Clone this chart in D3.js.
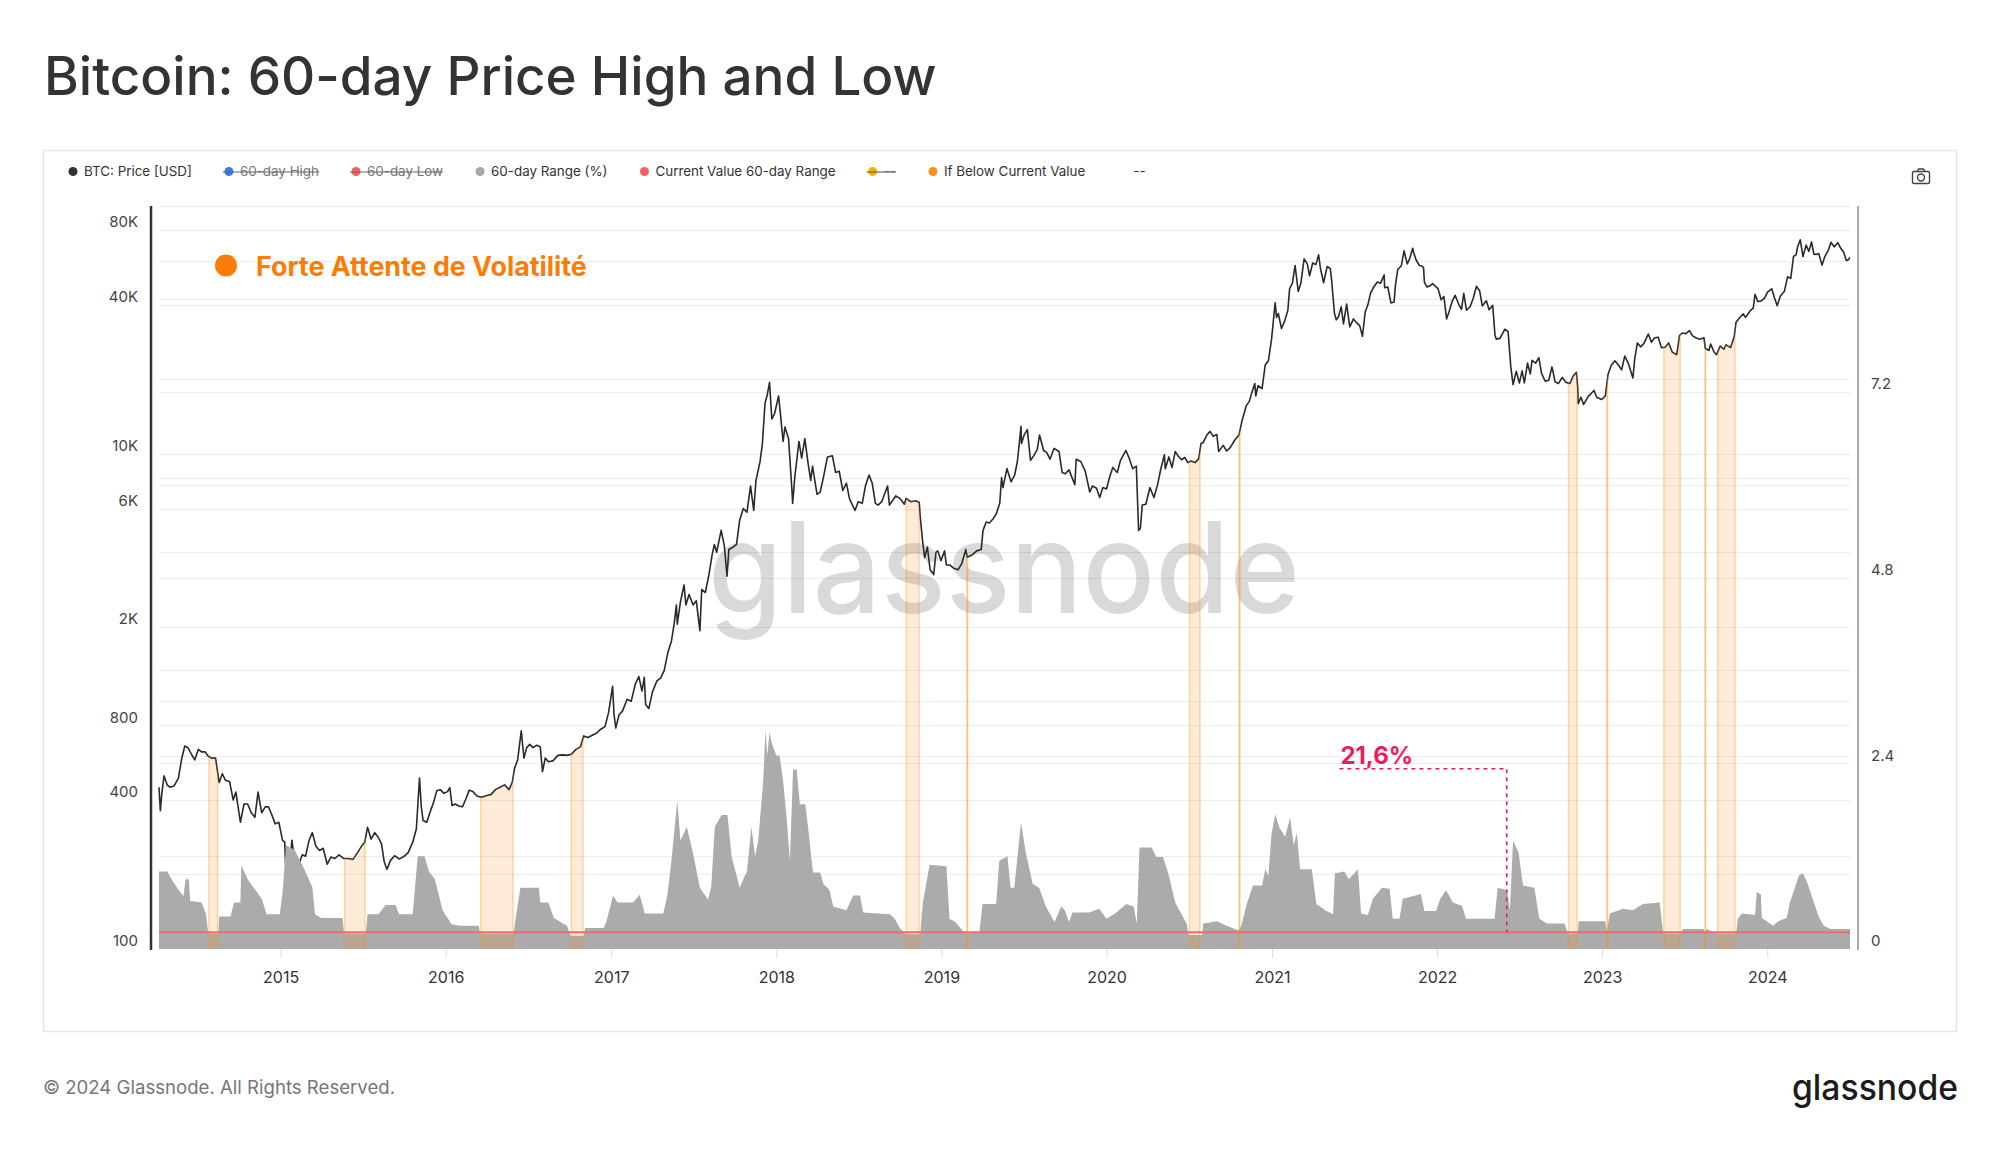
<!DOCTYPE html>
<html>
<head>
<meta charset="utf-8">
<script src="https://cdn.jsdelivr.net/npm/d3@7"></script>
<style>
  body { margin: 0; background: #fff; }
  svg { display: block; font-family: Inter, "Noto Sans", sans-serif; }
</style>
</head>
<body>
<div id="chart"></div>
<script>
/* Bitcoin: 60-day price high and low, with 60-day range */

// BTC price [USD]
const btcPrice = [
  ["2014-04-07",450],["2014-04-10",362],["2014-04-13",420],["2014-04-18",500],["2014-04-25",460],["2014-05-01",450],
  ["2014-05-10",455],["2014-05-20",490],["2014-05-27",585],["2014-06-03",660],["2014-06-10",650],["2014-06-18",610],
  ["2014-06-25",580],["2014-07-03",640],["2014-07-10",625],["2014-07-18",625],["2014-07-25",600],["2014-08-01",590],
  ["2014-08-10",590],["2014-08-18",470],["2014-08-25",510],["2014-09-01",480],["2014-09-10",475],["2014-09-18",400],
  ["2014-09-24",430],["2014-10-04",325],["2014-10-12",385],["2014-10-20",385],["2014-10-28",355],["2014-11-05",340],
  ["2014-11-12",430],["2014-11-20",355],["2014-11-28",375],["2014-12-05",375],["2014-12-12",350],["2014-12-20",320],
  ["2014-12-28",325],["2015-01-05",275],["2015-01-10",270],["2015-01-14",178],["2015-01-20",210],["2015-01-26",275],
  ["2015-02-01",225],["2015-02-10",220],["2015-02-18",240],["2015-02-25",237],["2015-03-05",275],["2015-03-12",295],
  ["2015-03-20",260],["2015-03-28",250],["2015-04-05",255],["2015-04-14",220],["2015-04-22",235],["2015-05-01",232],
  ["2015-05-10",240],["2015-05-20",232],["2015-05-30",232],["2015-06-10",230],["2015-06-20",245],["2015-06-30",262],
  ["2015-07-06",270],["2015-07-12",310],["2015-07-20",278],["2015-07-28",295],["2015-08-05",282],["2015-08-12",266],
  ["2015-08-18",225],["2015-08-24",210],["2015-09-01",228],["2015-09-10",238],["2015-09-20",231],["2015-09-30",236],
  ["2015-10-10",245],["2015-10-20",270],["2015-10-28",305],["2015-11-04",490],["2015-11-08",375],["2015-11-12",330],
  ["2015-11-20",325],["2015-11-28",360],["2015-12-05",390],["2015-12-12",435],["2015-12-20",440],["2015-12-28",425],
  ["2016-01-05",432],["2016-01-10",448],["2016-01-15",380],["2016-01-22",385],["2016-01-30",378],["2016-02-07",375],
  ["2016-02-15",405],["2016-02-22",438],["2016-03-01",432],["2016-03-10",415],["2016-03-20",410],["2016-04-01",417],
  ["2016-04-10",420],["2016-04-20",440],["2016-04-30",450],["2016-05-10",460],["2016-05-20",440],["2016-05-27",470],
  ["2016-06-01",535],["2016-06-08",580],["2016-06-16",760],["2016-06-22",590],["2016-06-28",650],["2016-07-05",670],
  ["2016-07-12",650],["2016-07-20",665],["2016-07-28",655],["2016-08-02",520],["2016-08-08",590],["2016-08-15",570],
  ["2016-08-25",575],["2016-09-05",605],["2016-09-15",608],["2016-09-25",605],["2016-10-05",612],["2016-10-15",640],
  ["2016-10-25",655],["2016-11-01",725],["2016-11-10",715],["2016-11-20",730],["2016-11-30",745],["2016-12-08",770],
  ["2016-12-18",790],["2016-12-26",900],["2017-01-04",1150],["2017-01-07",890],["2017-01-11",780],["2017-01-18",880],
  ["2017-01-26",915],["2017-02-05",1020],["2017-02-14",1000],["2017-02-23",1170],["2017-03-03",1260],["2017-03-10",1100],
  ["2017-03-15",1250],["2017-03-18",970],["2017-03-25",935],["2017-04-02",1090],["2017-04-12",1210],["2017-04-20",1240],
  ["2017-04-28",1330],["2017-05-06",1570],["2017-05-14",1750],["2017-05-20",2050],["2017-05-25",2450],["2017-05-27",2050],
  ["2017-06-03",2520],["2017-06-11",2950],["2017-06-15",2450],["2017-06-22",2700],["2017-07-01",2450],["2017-07-08",2550],
  ["2017-07-16",1930],["2017-07-20",2830],["2017-07-28",2750],["2017-08-05",3250],["2017-08-12",3900],["2017-08-17",4300],
  ["2017-08-22",4000],["2017-09-01",4900],["2017-09-08",4250],["2017-09-14",3200],["2017-09-18",4100],["2017-09-28",4200],
  ["2017-10-05",4300],["2017-10-12",5400],["2017-10-20",6000],["2017-10-28",5800],["2017-11-05",7400],["2017-11-12",5900],
  ["2017-11-17",7800],["2017-11-26",9300],["2017-12-01",10900],["2017-12-07",16000],["2017-12-12",17300],["2017-12-17",19400],
  ["2017-12-22",13800],["2017-12-28",14500],["2018-01-06",17100],["2018-01-10",14500],["2018-01-16",11200],["2018-01-20",12800],
  ["2018-01-28",11500],["2018-02-05",6900],["2018-02-06",6300],["2018-02-11",8100],["2018-02-20",11200],["2018-02-26",9600],
  ["2018-03-05",11500],["2018-03-12",9200],["2018-03-18",7800],["2018-03-22",8900],["2018-04-01",6850],["2018-04-08",7000],
  ["2018-04-15",8000],["2018-04-24",9700],["2018-05-05",9800],["2018-05-12",8400],["2018-05-20",8500],["2018-05-28",7100],
  ["2018-06-05",7600],["2018-06-12",6550],["2018-06-24",5900],["2018-07-01",6400],["2018-07-10",6300],["2018-07-17",7400],
  ["2018-07-25",8200],["2018-08-01",7600],["2018-08-08",6300],["2018-08-14",6200],["2018-08-22",6400],["2018-08-30",7000],
  ["2018-09-04",7400],["2018-09-08",6200],["2018-09-16",6500],["2018-09-22",6750],["2018-10-01",6600],["2018-10-11",6250],
  ["2018-10-15",6600],["2018-10-25",6400],["2018-11-05",6450],["2018-11-13",6350],["2018-11-15",5600],["2018-11-20",4500],
  ["2018-11-25",3800],["2018-12-01",4200],["2018-12-07",3400],["2018-12-15",3250],["2018-12-20",4000],["2018-12-24",4050],
  ["2018-12-31",3700],["2019-01-08",4050],["2019-01-12",3550],["2019-01-20",3550],["2019-01-28",3450],["2019-02-07",3400],
  ["2019-02-15",3600],["2019-02-24",4100],["2019-02-27",3820],["2019-03-10",3900],["2019-03-20",4050],["2019-03-30",4100],
  ["2019-04-03",4900],["2019-04-10",5300],["2019-04-17",5250],["2019-04-25",5450],["2019-05-02",5700],["2019-05-10",6300],
  ["2019-05-14",8000],["2019-05-17",7300],["2019-05-26",8700],["2019-06-04",7700],["2019-06-12",8200],["2019-06-18",9300],
  ["2019-06-26",12900],["2019-06-27",11000],["2019-07-03",11900],["2019-07-10",12500],["2019-07-17",9400],["2019-07-24",9800],
  ["2019-08-01",10400],["2019-08-06",11900],["2019-08-15",10300],["2019-08-22",10100],["2019-08-29",9500],["2019-09-07",10500],
  ["2019-09-18",10200],["2019-09-25",8400],["2019-10-02",8300],["2019-10-10",8600],["2019-10-23",7500],["2019-10-26",9500],
  ["2019-11-05",9300],["2019-11-15",8500],["2019-11-25",7000],["2019-12-01",7400],["2019-12-10",7250],["2019-12-17",6650],
  ["2019-12-24",7300],["2020-01-01",7200],["2020-01-08",8050],["2020-01-15",8800],["2020-01-25",8400],["2020-02-01",9400],
  ["2020-02-13",10300],["2020-02-20",9600],["2020-02-28",8700],["2020-03-07",8900],["2020-03-12",4900],["2020-03-16",5000],
  ["2020-03-20",6200],["2020-03-28",6250],["2020-04-06",7300],["2020-04-15",6650],["2020-04-23",7500],["2020-04-30",8650],
  ["2020-05-08",9900],["2020-05-10",8700],["2020-05-18",9700],["2020-05-25",8800],["2020-06-01",10200],["2020-06-08",9750],
  ["2020-06-15",9450],["2020-06-22",9650],["2020-06-29",9200],["2020-07-06",9350],["2020-07-15",9200],["2020-07-23",9550],
  ["2020-07-28",11000],["2020-08-02",11100],["2020-08-10",11900],["2020-08-17",12300],["2020-08-24",11750],["2020-09-01",11950],
  ["2020-09-05",10200],["2020-09-15",10800],["2020-09-23",10250],["2020-10-01",10600],["2020-10-10",11300],["2020-10-20",11900],
  ["2020-10-27",13650],["2020-11-05",15600],["2020-11-12",16300],["2020-11-18",17800],["2020-11-24",19200],["2020-11-26",17100],
  ["2020-12-01",18800],["2020-12-10",18300],["2020-12-17",22800],["2020-12-24",23700],["2020-12-31",29000],["2021-01-08",40700],
  ["2021-01-11",35500],["2021-01-15",36800],["2021-01-22",32000],["2021-01-29",34300],["2021-02-05",37900],["2021-02-09",46500],
  ["2021-02-15",48700],["2021-02-21",57500],["2021-02-28",45200],["2021-03-06",49000],["2021-03-13",61200],["2021-03-20",58400],
  ["2021-03-25",52300],["2021-04-01",58900],["2021-04-08",58000],["2021-04-14",63500],["2021-04-18",56200],["2021-04-25",49000],
  ["2021-05-03",57000],["2021-05-10",55800],["2021-05-13",49700],["2021-05-19",37000],["2021-05-23",34700],["2021-05-28",35700],
  ["2021-06-03",39200],["2021-06-08",33400],["2021-06-15",40200],["2021-06-22",32500],["2021-06-30",35000],["2021-07-07",33800],
  ["2021-07-14",32800],["2021-07-20",29800],["2021-07-26",37300],["2021-08-01",39900],["2021-08-07",44600],["2021-08-14",47100],
  ["2021-08-22",49300],["2021-08-29",48800],["2021-09-06",52700],["2021-09-07",46800],["2021-09-14",47100],["2021-09-21",40600],
  ["2021-09-28",41000],["2021-10-01",48100],["2021-10-06",55400],["2021-10-14",57400],["2021-10-20",65900],["2021-10-27",58400],
  ["2021-11-01",61000],["2021-11-08",67500],["2021-11-10",64900],["2021-11-16",60400],["2021-11-23",57500],["2021-11-28",57200],
  ["2021-12-02",56500],["2021-12-04",49200],["2021-12-10",47100],["2021-12-16",47600],["2021-12-22",48600],["2021-12-28",47500],
  ["2022-01-03",46400],["2022-01-10",41800],["2022-01-16",43100],["2022-01-22",35000],["2022-01-28",37700],["2022-02-04",41500],
  ["2022-02-10",43600],["2022-02-18",40000],["2022-02-24",38300],["2022-03-01",44400],["2022-03-07",38000],["2022-03-15",39200],
  ["2022-03-22",42400],["2022-03-29",47400],["2022-04-05",45500],["2022-04-11",39500],["2022-04-20",41400],["2022-04-26",38100],
  ["2022-05-04",39700],["2022-05-09",30100],["2022-05-12",29000],["2022-05-20",29200],["2022-05-31",31800],["2022-06-07",31100],
  ["2022-06-13",22400],["2022-06-18",19000],["2022-06-25",21500],["2022-07-02",19300],["2022-07-08",21600],["2022-07-13",19300],
  ["2022-07-20",23200],["2022-07-26",21000],["2022-07-30",23800],["2022-08-07",23200],["2022-08-14",24400],["2022-08-20",21100],
  ["2022-08-28",19600],["2022-09-05",19800],["2022-09-12",22400],["2022-09-19",19500],["2022-09-26",19200],["2022-10-05",20300],
  ["2022-10-13",19400],["2022-10-22",19200],["2022-10-29",20600],["2022-11-05",21300],["2022-11-08",18500],["2022-11-09",15900],
  ["2022-11-15",16900],["2022-11-21",15800],["2022-12-01",17000],["2022-12-14",18000],["2022-12-20",16900],["2022-12-31",16550],
  ["2023-01-08",17100],["2023-01-14",20900],["2023-01-21",22700],["2023-01-29",23700],["2023-02-05",22900],["2023-02-13",21800],
  ["2023-02-20",24800],["2023-02-28",23100],["2023-03-10",20200],["2023-03-14",24200],["2023-03-20",28000],["2023-03-27",27000],
  ["2023-04-03",27800],["2023-04-13",30400],["2023-04-20",28200],["2023-04-27",29400],["2023-05-05",29500],["2023-05-12",26800],
  ["2023-05-20",26900],["2023-05-28",28000],["2023-06-05",25700],["2023-06-15",25100],["2023-06-21",30000],["2023-06-27",30700],
  ["2023-07-05",30500],["2023-07-13",31400],["2023-07-20",29900],["2023-07-28",29300],["2023-08-05",29000],["2023-08-14",29400],
  ["2023-08-17",26600],["2023-08-25",26100],["2023-08-29",27700],["2023-09-05",25800],["2023-09-11",25100],["2023-09-19",27200],
  ["2023-09-27",26400],["2023-10-02",27500],["2023-10-12",26800],["2023-10-20",29700],["2023-10-24",33900],["2023-11-01",35400],
  ["2023-11-09",36700],["2023-11-14",35500],["2023-11-24",37700],["2023-12-01",38700],["2023-12-05",44000],["2023-12-11",41200],
  ["2023-12-18",41300],["2023-12-26",42500],["2024-01-02",45000],["2024-01-11",46300],["2024-01-16",43100],["2024-01-23",39600],
  ["2024-01-30",43300],["2024-02-08",45300],["2024-02-15",51800],["2024-02-22",51000],["2024-02-28",62400],["2024-03-05",63700],
  ["2024-03-08",68300],["2024-03-14",73000],["2024-03-20",62500],["2024-03-27",69500],["2024-04-02",65600],["2024-04-08",71600],
  ["2024-04-13",63900],["2024-04-19",63800],["2024-04-24",64200],["2024-05-01",57700],["2024-05-07",62300],["2024-05-15",66200],
  ["2024-05-21",71400],["2024-05-28",68400],["2024-06-05",71100],["2024-06-12",67300],["2024-06-18",65100],["2024-06-24",60300],
  ["2024-06-28",60600],["2024-07-02",62000]
];

// 60-day range (right axis)
const rangeSeries = [
  ["2014-04-07",1.0],["2014-04-25",1.0],["2014-05-10",0.85],["2014-05-31",0.68],["2014-06-05",0.9],["2014-06-12",0.9],
  ["2014-06-15",0.62],["2014-07-10",0.6],["2014-07-20",0.45],["2014-07-25",0.2],["2014-08-16",0.2],["2014-08-18",0.42],
  ["2014-09-12",0.42],["2014-09-20",0.6],["2014-10-04",0.6],["2014-10-06",1.08],["2014-10-20",0.9],["2014-11-20",0.65],
  ["2014-12-01",0.45],["2014-12-30",0.45],["2015-01-05",0.72],["2015-01-13",1.34],["2015-02-01",1.28],["2015-02-20",1.06],
  ["2015-03-12",0.8],["2015-03-18",0.45],["2015-04-01",0.4],["2015-05-18",0.4],["2015-05-21",0.2],["2015-07-08",0.2],
  ["2015-07-12",0.45],["2015-08-05",0.45],["2015-08-21",0.57],["2015-09-12",0.57],["2015-09-20",0.45],["2015-10-20",0.45],
  ["2015-10-31",1.2],["2015-11-15",1.2],["2015-11-25",1.0],["2015-12-08",0.9],["2015-12-25",0.5],["2016-01-14",0.32],
  ["2016-02-01",0.3],["2016-03-14",0.3],["2016-03-17",0.2],["2016-05-30",0.2],["2016-06-05",0.45],["2016-06-14",0.79],
  ["2016-07-25",0.79],["2016-07-28",0.6],["2016-08-15",0.6],["2016-08-27",0.4],["2016-09-25",0.3],["2016-10-03",0.17],
  ["2016-11-01",0.17],["2016-11-04",0.27],["2016-12-15",0.27],["2016-12-21",0.35],["2017-01-05",0.69],["2017-01-15",0.6],
  ["2017-02-18",0.6],["2017-03-05",0.7],["2017-03-16",0.46],["2017-04-26",0.46],["2017-05-05",0.69],["2017-05-14",1.14],
  ["2017-05-27",1.92],["2017-06-03",1.4],["2017-06-17",1.58],["2017-07-01",1.23],["2017-07-16",0.79],["2017-08-03",0.64],
  ["2017-08-10",0.8],["2017-08-18",1.58],["2017-09-02",1.73],["2017-09-15",1.73],["2017-09-24",1.2],["2017-10-12",0.79],
  ["2017-10-20",0.9],["2017-10-28",1.0],["2017-11-07",1.58],["2017-11-15",1.2],["2017-11-22",1.4],["2017-12-03",2.17],
  ["2017-12-08",2.84],["2017-12-12",2.5],["2017-12-17",2.8],["2017-12-22",2.66],["2018-01-01",2.5],["2018-01-08",2.5],
  ["2018-01-16",2.17],["2018-01-24",1.68],["2018-01-31",1.14],["2018-02-07",2.32],["2018-02-15",2.32],["2018-02-22",1.87],
  ["2018-03-06",1.87],["2018-03-12",1.58],["2018-03-23",0.99],["2018-04-08",0.99],["2018-04-15",0.84],["2018-04-28",0.77],
  ["2018-05-07",0.55],["2018-06-05",0.5],["2018-06-20",0.69],["2018-07-05",0.69],["2018-07-12",0.47],["2018-09-09",0.45],
  ["2018-09-20",0.39],["2018-10-01",0.27],["2018-10-14",0.19],["2018-11-15",0.19],["2018-11-21",0.6],["2018-12-06",1.09],
  ["2019-01-12",1.07],["2019-01-19",0.39],["2019-02-01",0.35],["2019-02-17",0.24],["2019-02-25",0.2],["2019-03-26",0.22],
  ["2019-04-02",0.58],["2019-05-02",0.58],["2019-05-09",1.14],["2019-05-27",1.2],["2019-06-03",0.79],["2019-06-11",0.79],
  ["2019-06-26",1.63],["2019-07-07",1.23],["2019-07-22",0.84],["2019-08-05",0.79],["2019-08-20",0.55],["2019-09-08",0.35],
  ["2019-09-23",0.55],["2019-10-01",0.5],["2019-10-10",0.35],["2019-10-18",0.47],["2019-11-24",0.47],["2019-12-16",0.52],
  ["2020-01-01",0.39],["2020-01-20",0.46],["2020-02-14",0.58],["2020-03-01",0.55],["2020-03-08",0.33],["2020-03-14",1.31],
  ["2020-04-10",1.31],["2020-04-20",1.19],["2020-05-05",1.19],["2020-05-17",0.97],["2020-06-01",0.6],["2020-06-26",0.33],
  ["2020-07-01",0.18],["2020-07-30",0.18],["2020-08-02",0.33],["2020-09-01",0.36],["2020-09-23",0.3],["2020-10-19",0.24],
  ["2020-10-25",0.3],["2020-11-06",0.58],["2020-11-20",0.82],["2020-12-10",0.82],["2020-12-17",1.03],["2020-12-24",0.95],
  ["2020-12-31",1.49],["2021-01-08",1.74],["2021-01-18",1.56],["2021-01-30",1.45],["2021-02-10",1.7],["2021-02-18",1.34],
  ["2021-02-25",1.5],["2021-03-04",1.03],["2021-03-30",1.03],["2021-04-09",0.58],["2021-05-01",0.49],["2021-05-16",0.45],
  ["2021-05-20",0.98],["2021-06-10",1.0],["2021-06-20",0.9],["2021-07-10",1.03],["2021-07-17",0.46],["2021-08-01",0.44],
  ["2021-08-12",0.65],["2021-09-01",0.79],["2021-09-18",0.78],["2021-09-25",0.39],["2021-10-10",0.39],["2021-10-17",0.65],
  ["2021-11-26",0.71],["2021-12-04",0.49],["2021-12-30",0.49],["2022-01-08",0.65],["2022-01-21",0.76],["2022-02-05",0.6],
  ["2022-02-25",0.56],["2022-03-06",0.39],["2022-05-08",0.39],["2022-05-15",0.79],["2022-06-05",0.76],["2022-06-11",0.5],
  ["2022-06-18",1.4],["2022-06-30",1.25],["2022-07-10",0.82],["2022-08-04",0.79],["2022-08-15",0.39],["2022-09-01",0.33],
  ["2022-10-10",0.33],["2022-10-17",0.2],["2022-11-08",0.2],["2022-11-10",0.36],["2023-01-08",0.36],["2023-01-11",0.22],
  ["2023-01-18",0.46],["2023-02-16",0.52],["2023-03-10",0.5],["2023-04-01",0.58],["2023-05-08",0.6],["2023-05-16",0.2],
  ["2023-06-25",0.2],["2023-06-28",0.26],["2023-08-13",0.26],["2023-08-16",0.22],["2023-08-20",0.26],["2023-09-13",0.2],
  ["2023-10-24",0.2],["2023-10-28",0.39],["2023-11-06",0.46],["2023-12-05",0.44],["2023-12-09",0.74],["2023-12-18",0.7],
  ["2023-12-20",0.4],["2024-01-14",0.3],["2024-01-25",0.36],["2024-02-13",0.4],["2024-02-20",0.6],["2024-03-01",0.77],
  ["2024-03-11",0.95],["2024-03-20",0.98],["2024-03-30",0.85],["2024-04-13",0.6],["2024-04-25",0.4],["2024-05-05",0.3],
  ["2024-05-20",0.26],["2024-07-02",0.26]
];

// current value of the 60-day range
const currentRange = 0.216;

// periods where the range was below the current value
const bandStarts = ["2014-07-25","2015-05-21","2016-03-17","2016-10-03","2018-10-14","2019-02-25","2020-07-01",
                    "2020-10-19","2022-10-17","2023-01-10","2023-05-16","2023-08-15","2023-09-12"];
const bandEnds   = ["2014-08-16","2015-07-08","2016-05-30","2016-11-01","2018-11-14","2019-02-27","2020-07-27",
                    "2020-10-21","2022-11-08","2023-01-12","2023-06-24","2023-08-17","2023-10-23"];

// axes
const priceLabels = [100, 400, 800, 2000, 6000, 10000, 40000, 80000];
const priceGrid = [200, 400, 600, 800, 1000, 2000, 4000, 6000, 8000, 10000, 20000, 40000, 60000, 80000, 100000];
const rangeLabels = [0, 2.4, 4.8, 7.2];
const rangeGrid = [1.2, 2.4, 3.6, 4.8, 6.0, 7.2, 8.4, 9.6];

// legend
const legendNames = ["BTC: Price [USD]", "60-day High", "60-day Low", "60-day Range (%)",
                     "Current Value 60-day Range", "--", "If Below Current Value", "--"];
const legendColors = ["#333333", "#2f80ed", "#f0605d", "#a9a9a9", "#f0605d", "#f5b400", "#f7931a", null];
const legendStruck = [false, true, true, false, false, true, false, false];

// annotation
const annFrom = "2021-05-30", annTo = "2022-06-04", annLevel = 2.33, annText = "21,6%";

const parse = d3.timeParse("%Y-%m-%d");
const price = btcPrice.map(d => ({ date: parse(d[0]), v: d[1] }));
const range = rangeSeries.map(d => ({ date: parse(d[0]), v: d[1] }));

const width = 2000, height = 1152;
const plot = { left: 159, right: 1850, top: 206, bottom: 949 };

const svg = d3.select("#chart").append("svg")
    .attr("width", width)
    .attr("height", height)
    .attr("viewBox", [0, 0, width, height]);

svg.append("rect").attr("width", width).attr("height", height).attr("fill", "#fff");

// title
svg.append("text")
    .attr("x", 44).attr("y", 95)
    .attr("font-size", 53).attr("font-weight", 500)
    .attr("fill", "#333")
    .text("Bitcoin: 60-day Price High and Low");

// panel frame
svg.append("rect")
    .attr("x", 43.5).attr("y", 150.5)
    .attr("width", 1913).attr("height", 881)
    .attr("fill", "none").attr("stroke", "#e6e6e6").attr("stroke-width", 1.5);

const x = d3.scaleTime()
    .domain([parse("2014-04-07"), parse("2024-07-02")])
    .range([plot.left, plot.right]);

const yP = d3.scaleLog()
    .domain([100, 100000])
    .range([plot.bottom, plot.top]);

const yR = d3.scaleLinear()
    .domain([0, 9.6])
    .range([plot.bottom, plot.top]);

// grid
const grid = svg.append("g").attr("stroke", "#ececec").attr("stroke-width", 1);
grid.selectAll(".gp").data(priceGrid).join("line")
    .attr("x1", plot.left).attr("x2", plot.right)
    .attr("y1", d => Math.round(yP(d)) + 0.5).attr("y2", d => Math.round(yP(d)) + 0.5);
grid.selectAll(".gr").data(rangeGrid).join("line")
    .attr("x1", plot.left).attr("x2", plot.right)
    .attr("y1", d => Math.round(yR(d)) + 0.5).attr("y2", d => Math.round(yR(d)) + 0.5);

// watermark
svg.append("text")
    .attr("x", 708).attr("y", 613)
    .attr("font-size", 126).attr("font-weight", 500)
    .attr("textLength", 592).attr("lengthAdjust", "spacingAndGlyphs")
    .attr("fill", "#000").attr("fill-opacity", 0.15)
    .text("glassnode");

// price line
svg.append("path")
    .datum(price)
    .attr("fill", "none")
    .attr("stroke", "#2a2a2a")
    .attr("stroke-width", 1.6)
    .attr("stroke-linejoin", "round")
    .attr("d", d3.line().x(d => x(d.date)).y(d => yP(d.v)));

// 60-day range area
svg.append("path")
    .datum(range)
    .attr("fill", "#ababab")
    .attr("d", d3.area().x(d => x(d.date)).y0(yR(0)).y1(d => yR(d.v)));

// orange bands: price area clipped to each period
const priceArea = d3.area().x(d => x(d.date)).y0(plot.bottom).y1(d => yP(d.v));
const defs = svg.append("defs");
const bands = svg.append("g");

bandStarts.forEach((s, i) => {
    const x0 = x(parse(s)), x1 = Math.max(x(parse(bandEnds[i])), x0 + 2);
    const parts = [
        { id: `band${i}`, a: x0, b: x1, op: 0.17 },
        { id: `band${i}l`, a: x0, b: x0 + 1.5, op: 0.28 },
        { id: `band${i}r`, a: x1 - 1.5, b: x1, op: 0.28 }
    ];
    parts.forEach(p => {
        defs.append("clipPath").attr("id", p.id)
            .append("rect")
            .attr("x", p.a).attr("y", plot.top)
            .attr("width", p.b - p.a).attr("height", plot.bottom - plot.top);
        bands.append("path")
            .datum(price)
            .attr("clip-path", `url(#${p.id})`)
            .attr("fill", "#ff8c1a")
            .attr("fill-opacity", p.op)
            .attr("d", priceArea);
    });
});

// current value line
svg.append("line")
    .attr("x1", plot.left).attr("x2", plot.right)
    .attr("y1", yR(currentRange)).attr("y2", yR(currentRange))
    .attr("stroke", "#f26a6a").attr("stroke-width", 2);

// axes
const fmtPrice = d => d >= 1000 ? (d / 1000) + "K" : d;

const leftAxis = svg.append("g")
    .attr("transform", "translate(151,0)")
    .call(d3.axisLeft(yP).tickValues(priceLabels).tickFormat(fmtPrice).tickSize(0).tickPadding(13));
leftAxis.select(".domain").remove();
leftAxis.selectAll("text").attr("y", -8).attr("font-size", 15).attr("fill", "#444")
    .attr("font-family", "Inter, sans-serif");

svg.append("line")
    .attr("x1", 151).attr("x2", 151).attr("y1", plot.top).attr("y2", plot.bottom + 1)
    .attr("stroke", "#333").attr("stroke-width", 2.5);

const rightAxis = svg.append("g")
    .attr("transform", "translate(1858,0)")
    .call(d3.axisRight(yR).tickValues(rangeLabels).tickFormat(d => d === 0 ? "0" : d.toFixed(1)).tickSize(0).tickPadding(13));
rightAxis.select(".domain").remove();
rightAxis.selectAll("text").attr("y", -8).attr("font-size", 15).attr("fill", "#444")
    .attr("font-family", "Inter, sans-serif");

svg.append("line")
    .attr("x1", 1858).attr("x2", 1858).attr("y1", plot.top).attr("y2", plot.bottom + 1)
    .attr("stroke", "#aaa").attr("stroke-width", 2);

const xAxis = svg.append("g")
    .attr("transform", `translate(0,${plot.bottom})`)
    .call(d3.axisBottom(x).ticks(d3.timeYear.every(1)).tickFormat(d3.timeFormat("%Y")).tickSize(9).tickPadding(14));
xAxis.select(".domain").remove();
xAxis.selectAll("line").attr("stroke", "#dcdcdc");
xAxis.selectAll("text").attr("font-size", 16).attr("fill", "#333")
    .attr("font-family", "Inter, sans-serif");

// legend
const legend = svg.append("g").attr("font-size", 13.4);
let lx = 73;
const ly = 171.5;
legendNames.forEach((name, i) => {
    const g = legend.append("g");
    const struck = legendStruck[i];
    if (legendColors[i]) {
        g.append("circle").attr("cx", lx).attr("cy", ly).attr("r", 4.5).attr("fill", legendColors[i]);
    }
    const t = g.append("text")
        .attr("x", lx + 11).attr("y", ly + 4.7)
        .attr("fill", struck ? "#777" : "#333")
        .text(name);
    const end = lx + 11 + t.node().getComputedTextLength();
    if (struck) {
        g.append("line")
            .attr("x1", lx - 6).attr("x2", end)
            .attr("y1", ly + 0.5).attr("y2", ly + 0.5)
            .attr("stroke", "#666").attr("stroke-width", 1.2);
    }
    lx = end + 37;
});

// camera icon
const cam = svg.append("g").attr("transform", "translate(1921,177)")
    .attr("fill", "none").attr("stroke", "#444").attr("stroke-width", 1.4);
cam.append("rect").attr("x", -8.5).attr("y", -5.5).attr("width", 17).attr("height", 12).attr("rx", 1.5);
cam.append("path").attr("d", "M-4,-5.5 L-2.5,-8 L2.5,-8 L4,-5.5");
cam.append("circle").attr("cx", 0).attr("cy", 0.5).attr("r", 3.5);

// "Forte Attente de Volatilité"
svg.append("circle").attr("cx", 226).attr("cy", 265.5).attr("r", 11).attr("fill", "#fb7d07");
svg.append("text")
    .attr("x", 256).attr("y", 275.5)
    .attr("font-size", 26.8).attr("font-weight", 700)
    .attr("fill", "#fb7d07")
    .text("Forte Attente de Volatilité");

// 21,6% annotation
svg.append("path")
    .attr("d", `M${x(parse(annFrom))},${yR(annLevel)} H${x(parse(annTo))} V${yR(currentRange)}`)
    .attr("fill", "none")
    .attr("stroke", "#ee1a5e").attr("stroke-width", 1.5)
    .attr("stroke-dasharray", "4,4");
svg.append("text")
    .attr("x", x(parse(annFrom)) + 1).attr("y", yR(annLevel) - 5)
    .attr("font-size", 24).attr("font-weight", 700)
    .attr("fill", "#ee1a5e")
    .text(annText);

// footer
svg.append("text")
    .attr("x", 43).attr("y", 1094)
    .attr("font-size", 18.6).attr("fill", "#777")
    .text("© 2024 Glassnode. All Rights Reserved.");
svg.append("text")
    .attr("x", 1792).attr("y", 1100)
    .attr("font-size", 36).attr("font-weight", 500)
    .attr("textLength", 166).attr("lengthAdjust", "spacingAndGlyphs")
    .attr("fill", "#1c1c1c")
    .text("glassnode");
</script>
</body>
</html>
